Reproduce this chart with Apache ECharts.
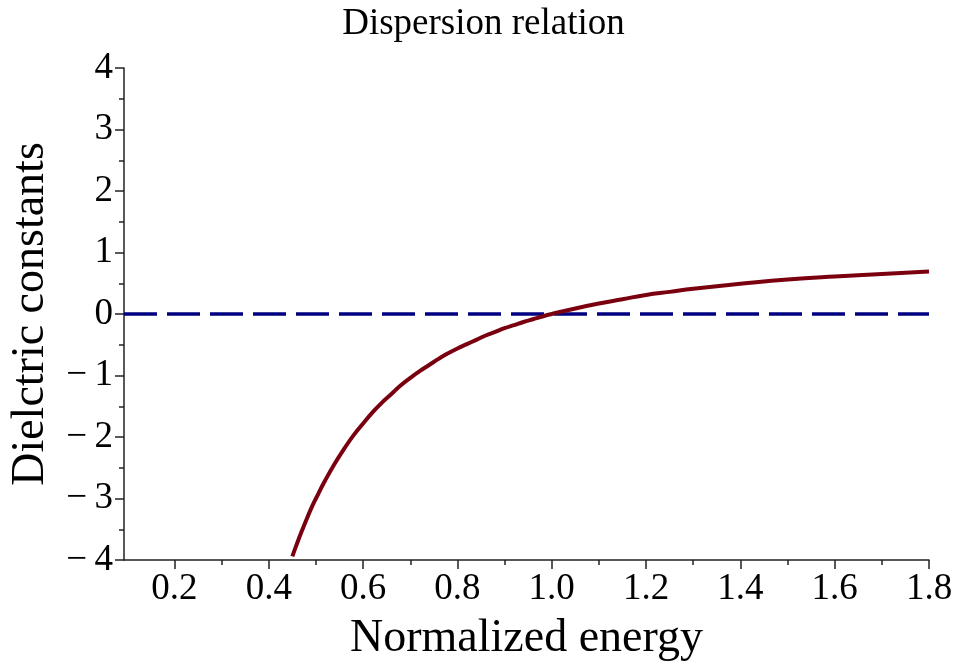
<!DOCTYPE html>
<html>
<head>
<meta charset="utf-8">
<script src="https://cdn.jsdelivr.net/npm/echarts@6/dist/echarts.min.js"></script>
<style>
  html, body { margin: 0; padding: 0; background: #fff; }
  #chart { width: 967px; height: 667px; }
</style>
</head>
<body>
<div id="chart"></div>
<script>
// normalized energy and dielectric constant
var energy = [0.45, 0.46, 0.47, 0.48, 0.49, 0.50, 0.52, 0.54, 0.56, 0.58, 0.60, 0.62, 0.64, 0.66, 0.68, 0.70, 0.72, 0.74, 0.76, 0.78, 0.80, 0.82, 0.84, 0.86, 0.88, 0.90, 0.92, 0.94, 0.96, 0.98, 1.00, 1.05, 1.10, 1.15, 1.20, 1.25, 1.30, 1.35, 1.40, 1.50, 1.60, 1.70, 1.80];
var epsilon = [-3.94, -3.73, -3.53, -3.34, -3.16, -3.00, -2.70, -2.43, -2.19, -1.97, -1.78, -1.60, -1.44, -1.30, -1.16, -1.04, -0.93, -0.83, -0.73, -0.64, -0.56, -0.49, -0.42, -0.35, -0.29, -0.23, -0.18, -0.13, -0.085, -0.04, 0.00, 0.09, 0.17, 0.24, 0.31, 0.36, 0.41, 0.45, 0.49, 0.56, 0.61, 0.65, 0.69];
// dashed zero line
var zeroX = [0.093, 1.8];
var zeroY = [0, 0];
// tick labels
var xLabels = [0.2, 0.4, 0.6, 0.8, 1.0, 1.2, 1.4, 1.6, 1.8];
var xMinor = [0.3, 0.5, 0.7, 0.9, 1.1, 1.3, 1.5, 1.7];

var serif = "'Liberation Serif', 'DejaVu Serif', serif";
var axisColor = "#222";

var myChart = echarts.init(document.getElementById("chart"));
var option = {
    animation: false,
    title: {
        text: "Dispersion relation",
        left: "center",
        top: 1,
        textStyle: { fontFamily: serif, fontSize: 37, fontWeight: "normal", color: "#000" }
    },
    grid: { left: 123, right: 38, top: 68, bottom: 105 },
    xAxis: [{
        type: "value",
        min: zeroX[0],
        max: 1.8,
        name: "Normalized energy",
        nameLocation: "middle",
        nameGap: 56,
        nameTextStyle: { fontFamily: serif, fontSize: 46, color: "#000" },
        axisLine: { show: true, onZero: false, lineStyle: { color: axisColor, width: 1.5 } },
        axisTick: { show: true, inside: false, length: 9, customValues: xLabels, lineStyle: { color: axisColor, width: 1.5 } },
        axisLabel: {
            customValues: xLabels,
            margin: 11,
            fontFamily: serif, fontSize: 37, color: "#000",
            formatter: function(v) { return v.toFixed(1); }
        },
        splitLine: { show: false }
    }, {
        type: "value",
        min: zeroX[0],
        max: 1.8,
        position: "bottom",
        offset: 0,
        axisLine: { show: false, onZero: false },
        axisTick: { show: true, inside: false, length: 5, customValues: xMinor, lineStyle: { color: axisColor, width: 1.5 } },
        axisLabel: { show: false },
        splitLine: { show: false }
    }],
    yAxis: {
        type: "value",
        min: -4,
        max: 4,
        interval: 1,
        name: "Dielctric constants",
        nameLocation: "middle",
        nameGap: 70,
        nameTextStyle: { fontFamily: serif, fontSize: 46, color: "#000" },
        axisLine: { show: true, onZero: false, lineStyle: { color: axisColor, width: 1.5 } },
        axisTick: { show: true, length: 9, lineStyle: { color: axisColor, width: 1.5 } },
        minorTick: { show: true, splitNumber: 2, length: 5, lineStyle: { color: axisColor, width: 1.5 } },
        axisLabel: {
            margin: 11,
            fontFamily: serif, fontSize: 37, color: "#000",
            formatter: function(v) { return v < 0 ? "\u2212\u2009" + Math.abs(v) : String(v); }
        },
        splitLine: { show: false }
    },
    series: [{
        name: "zero",
        type: "line",
        data: zeroX.map(function(x, i) { return [x, zeroY[i]]; }),
        symbol: "none",
        lineStyle: { color: "#000080", width: 3.5, type: [33, 10] },
        z: 2
    }, {
        name: "epsilon",
        type: "line",
        smooth: true,
        data: energy.map(function(x, i) { return [x, epsilon[i]]; }),
        symbol: "none",
        lineStyle: { color: "#7a0010", width: 4 },
        z: 3
    }]
};
myChart.setOption(option);
</script>
</body>
</html>
